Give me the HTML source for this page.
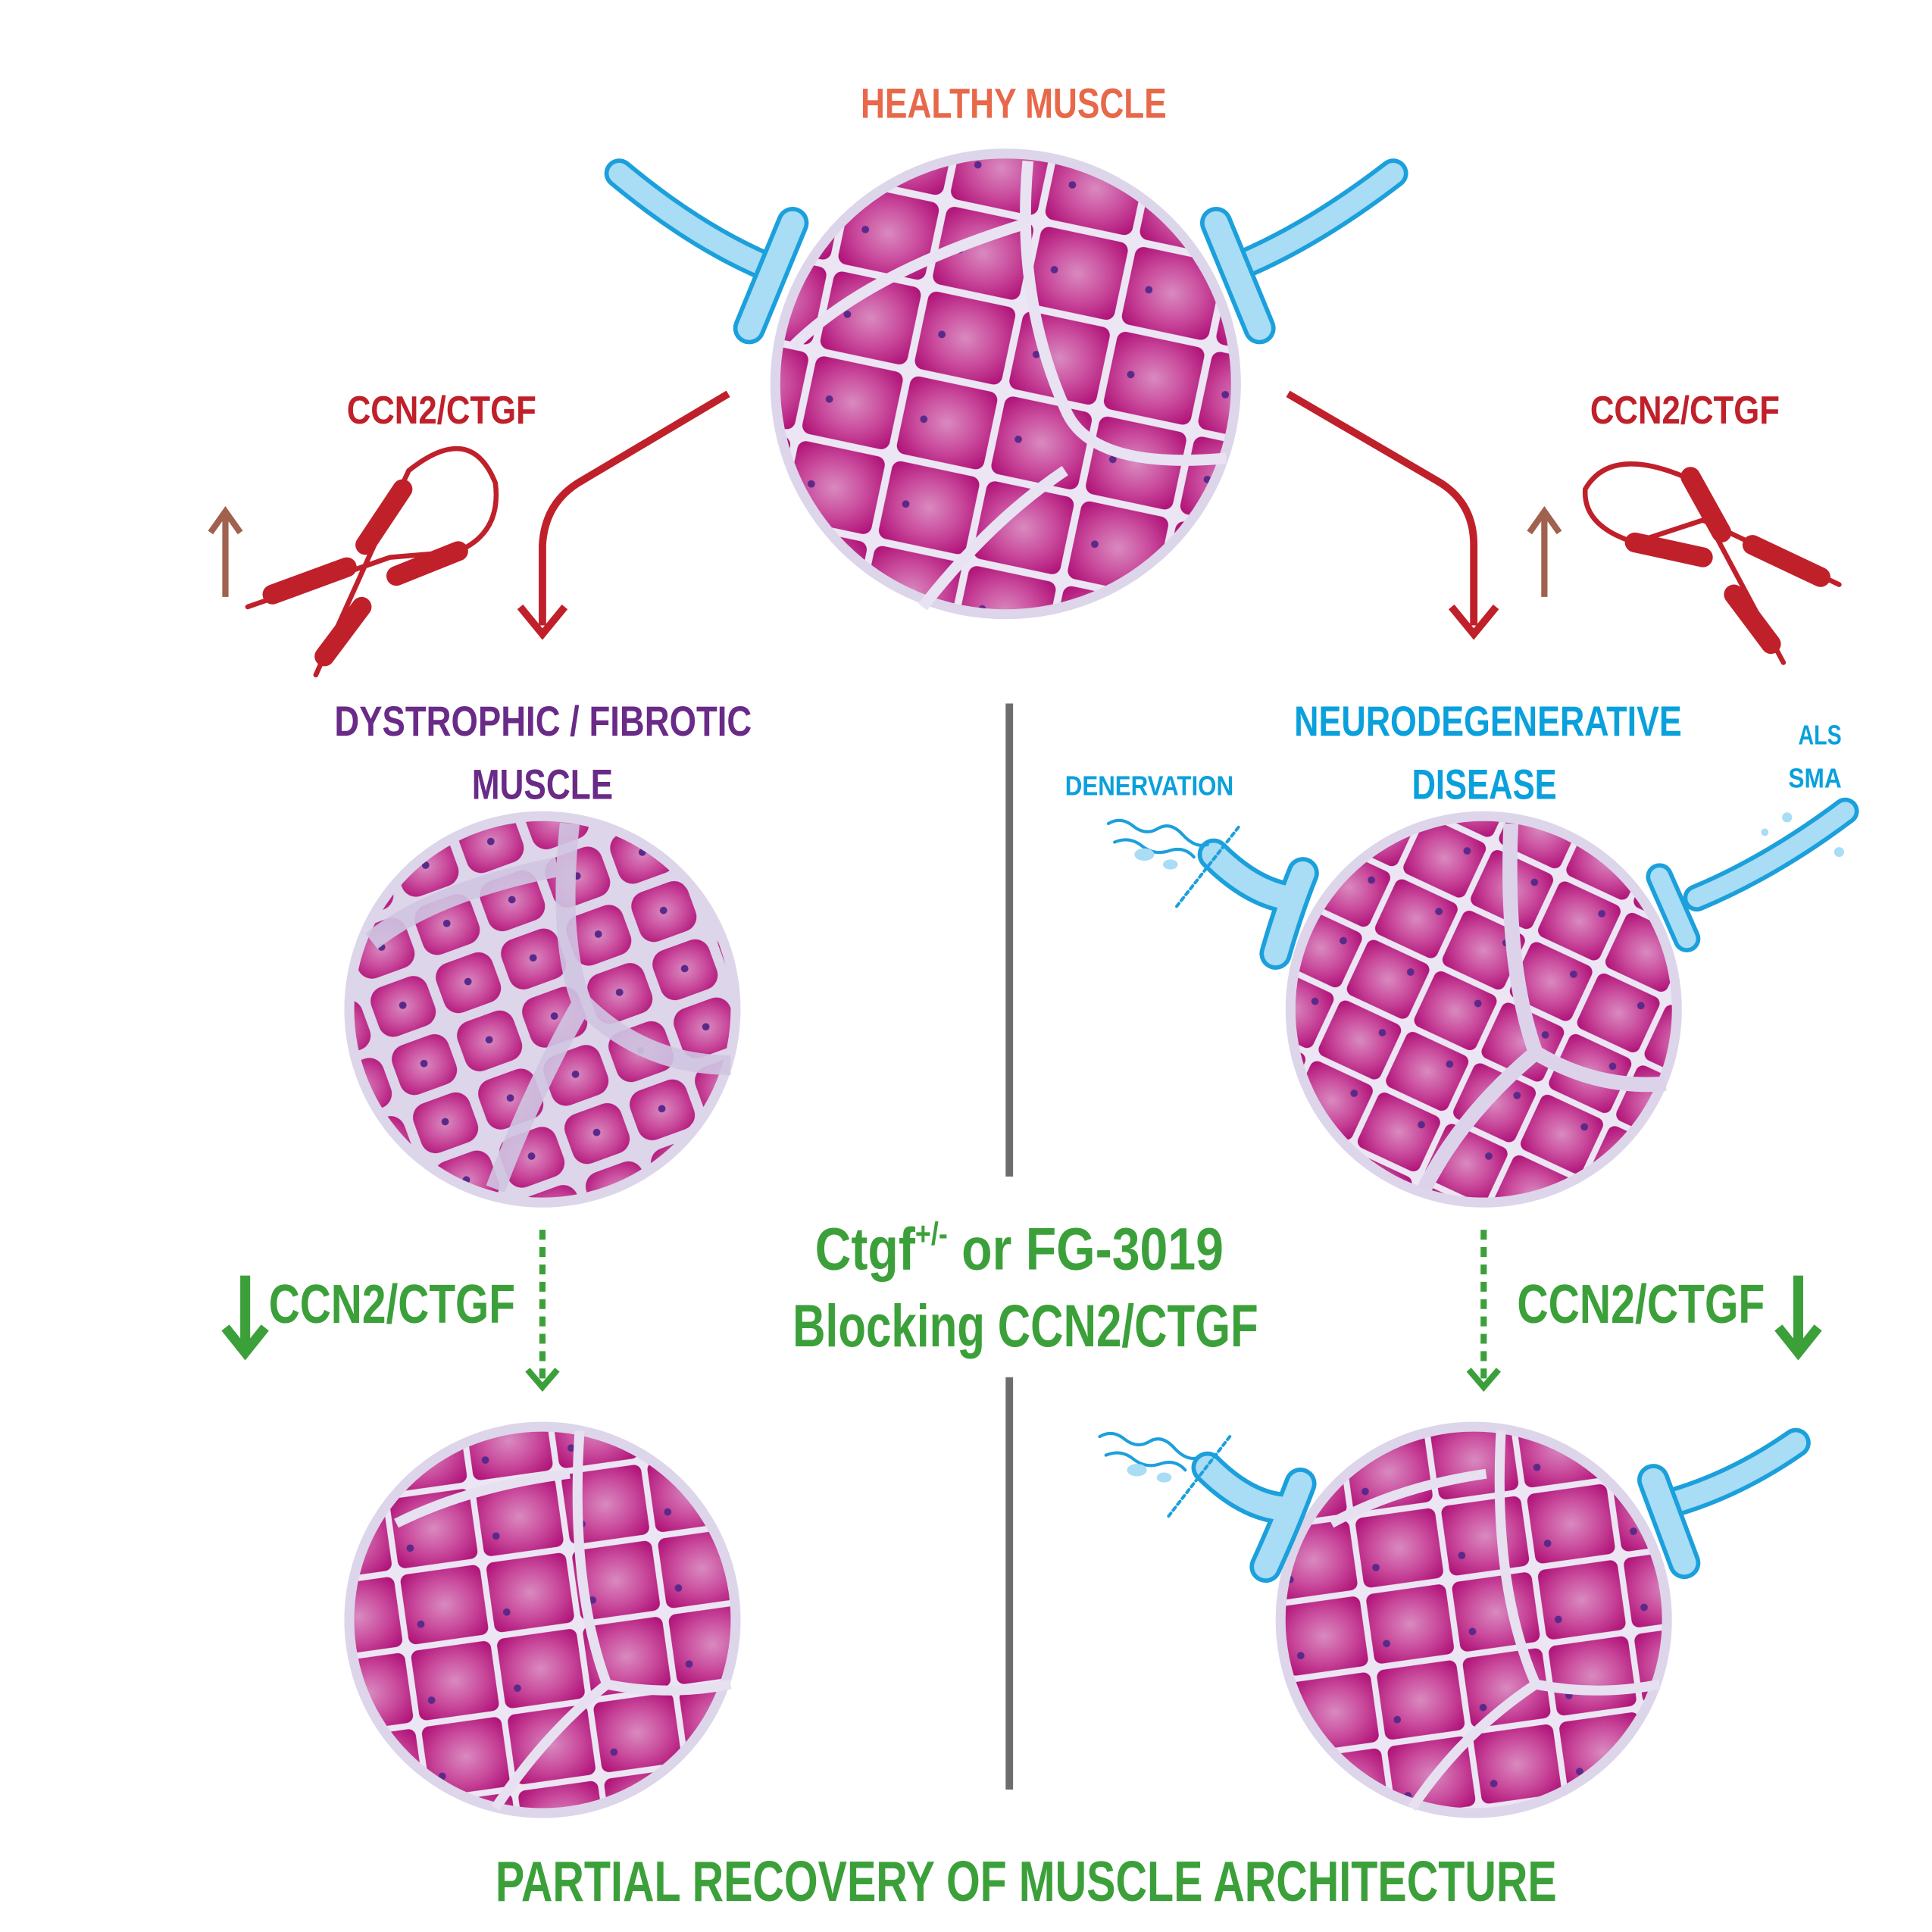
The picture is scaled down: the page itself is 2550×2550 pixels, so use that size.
<!DOCTYPE html>
<html><head><meta charset="utf-8"><style>html,body{margin:0;padding:0;background:#fff}svg{display:block}</style></head>
<body>
<svg xmlns="http://www.w3.org/2000/svg" width="2550" height="2550" viewBox="0 0 1560 1560" font-family="'Liberation Sans', sans-serif" font-weight="bold">
<defs>
<radialGradient id="cg" cx="0.5" cy="0.5" r="0.65">
<stop offset="0" stop-color="#d98ac0"/><stop offset="0.55" stop-color="#c94a9c"/><stop offset="1" stop-color="#b01478"/></radialGradient>
<pattern id="p1" patternUnits="userSpaceOnUse" width="78" height="70" patternTransform="rotate(12)">
<rect width="78" height="70" fill="#ece6f4"/><rect x="3" y="3" width="72" height="64" rx="7" fill="url(#cg)"/><circle cx="20" cy="36" r="3" fill="#5a2a8a"/></pattern>
<pattern id="p2" patternUnits="userSpaceOnUse" width="56" height="50" patternTransform="rotate(-20)">
<rect width="56" height="50" fill="#ddd5ea"/><rect x="4" y="4" width="48" height="42" rx="12" fill="url(#cg)"/><circle cx="28" cy="24" r="3" fill="#5a2a8a"/></pattern>
<pattern id="p3" patternUnits="userSpaceOnUse" width="60" height="54" patternTransform="rotate(25)">
<rect width="60" height="54" fill="#ece6f4"/><rect x="2.5" y="2.5" width="55" height="49" rx="6" fill="url(#cg)"/><circle cx="44" cy="14" r="3" fill="#5a2a8a"/></pattern>
<pattern id="p4" patternUnits="userSpaceOnUse" width="70" height="62" patternTransform="rotate(-8)">
<rect width="70" height="62" fill="#ece6f4"/><rect x="2.5" y="2.5" width="65" height="57" rx="6" fill="url(#cg)"/><circle cx="14" cy="44" r="3" fill="#5a2a8a"/></pattern>
</defs>

<g>
<circle cx="812" cy="310" r="190" fill="#ddd5ea"/>
<circle cx="812" cy="310" r="182" fill="url(#p1)"/>
<path d="M830 130 Q820 240 860 330 Q880 380 990 370 M860 380 Q800 420 745 490 M640 280 Q700 220 830 180" stroke="#e8e2f2" stroke-width="9" fill="none"/>
</g>
<g>
<circle cx="438" cy="815" r="160" fill="#ddd5ea"/>
<circle cx="438" cy="815" r="152" fill="url(#p2)"/>
<path d="M460 665 Q450 760 470 810 Q520 860 590 860 M470 810 Q430 880 400 960 M300 760 Q350 720 450 700" stroke="#cfc5e2" stroke-width="16" fill="none" opacity="0.9"/>
</g>
<g>
<circle cx="1198" cy="815" r="160" fill="#ddd5ea"/>
<circle cx="1198" cy="815" r="152" fill="url(#p3)"/>
<path d="M1220 665 Q1215 780 1240 850 Q1290 880 1345 875 M1240 850 Q1180 900 1150 960" stroke="#dcd3ea" stroke-width="12" fill="none"/>
</g>
<g>
<circle cx="438" cy="1308" r="160" fill="#ddd5ea"/>
<circle cx="438" cy="1308" r="152" fill="url(#p4)"/>
<path d="M468 1155 Q460 1280 490 1360 Q540 1370 590 1360 M490 1360 Q440 1400 400 1460 M320 1230 Q380 1200 460 1190" stroke="#e6e0f0" stroke-width="8" fill="none"/>
</g>
<g>
<circle cx="1190" cy="1308" r="160" fill="#ddd5ea"/>
<circle cx="1190" cy="1308" r="152" fill="url(#p4)"/>
<path d="M1212 1155 Q1205 1280 1240 1360 Q1290 1370 1340 1360 M1240 1360 Q1180 1400 1140 1460 M1075 1230 Q1130 1200 1200 1190" stroke="#e6e0f0" stroke-width="8" fill="none"/>
</g>

<g fill="none" stroke-linecap="round" stroke-linejoin="round">
<path d="M500 140 Q560 190 618 215" stroke="#1ba0dc" stroke-width="24"/>
<path d="M500 140 Q560 190 618 215" stroke="#a9dcf5" stroke-width="17"/>
<path d="M640 180 L605 265" stroke="#1ba0dc" stroke-width="26"/>
<path d="M640 180 L605 265" stroke="#a9dcf5" stroke-width="19"/>
<path d="M1125 140 Q1060 190 1000 215" stroke="#1ba0dc" stroke-width="24"/>
<path d="M1125 140 Q1060 190 1000 215" stroke="#a9dcf5" stroke-width="17"/>
<path d="M982 180 L1017 265" stroke="#1ba0dc" stroke-width="26"/>
<path d="M982 180 L1017 265" stroke="#a9dcf5" stroke-width="19"/>
<path d="M980 690 Q1010 720 1040 725 M1052 705 Q1040 735 1030 770" stroke="#1ba0dc" stroke-width="26"/>
<path d="M980 690 Q1010 720 1040 725 M1052 705 Q1040 735 1030 770" stroke="#a9dcf5" stroke-width="19"/>
<path d="M895 665 q10 -6 20 2 t20 2 t20 5 t20 8 M900 680 q12 -5 22 3 t22 4 t20 5" stroke="#1ba0dc" stroke-width="2.5"/>
<path d="M1000 668 L950 732" stroke="#1ba0dc" stroke-width="2.5" stroke-dasharray="3 3"/>
<path d="M1490 655 Q1430 700 1370 725 M1340 708 L1362 758" stroke="#1ba0dc" stroke-width="22"/>
<path d="M1490 655 Q1430 700 1370 725 M1340 708 L1362 758" stroke="#a9dcf5" stroke-width="15"/>
<path d="M975 1185 Q1005 1215 1035 1218 M1050 1198 Q1038 1230 1022 1265" stroke="#1ba0dc" stroke-width="26"/>
<path d="M975 1185 Q1005 1215 1035 1218 M1050 1198 Q1038 1230 1022 1265" stroke="#a9dcf5" stroke-width="19"/>
<path d="M888 1160 q10 -6 20 2 t20 2 t20 5 t20 8 M893 1175 q12 -5 22 3 t22 4 t20 5" stroke="#1ba0dc" stroke-width="2.5"/>
<path d="M993 1160 L943 1225" stroke="#1ba0dc" stroke-width="2.5" stroke-dasharray="3 3"/>
<path d="M1450 1165 Q1400 1200 1345 1215" stroke="#1ba0dc" stroke-width="24"/>
<path d="M1450 1165 Q1400 1200 1345 1215" stroke="#a9dcf5" stroke-width="17"/>
<path d="M1335 1195 L1360 1262" stroke="#1ba0dc" stroke-width="26"/>
<path d="M1335 1195 L1360 1262" stroke="#a9dcf5" stroke-width="19"/>
</g>
<g fill="#a9dcf5"><ellipse cx="924" cy="690" rx="8" ry="5"/><ellipse cx="945" cy="698" rx="6" ry="4"/><ellipse cx="918" cy="1187" rx="8" ry="5"/><ellipse cx="940" cy="1193" rx="6" ry="4"/><circle cx="1443" cy="660" r="4"/><circle cx="1425" cy="672" r="3"/><circle cx="1485" cy="688" r="4"/></g>

<g fill="none" stroke="#c0202a" stroke-width="6">
<path d="M588 318 L470 388 Q440 405 438 440 L438 505"/>
<path d="M420 490 L438 512 L456 490"/>
<path d="M1040 318 L1160 388 Q1190 405 1190 440 L1190 505"/>
<path d="M1172 490 L1190 512 L1208 490"/>
</g>
<g stroke="#c0202a" fill="none" stroke-linecap="round">
<path d="M200 490 L315 450 L375 445 M255 545 L300 445 L330 380 Q380 340 400 390 Q405 430 370 445" stroke-width="4"/>
<path d="M220 480 L280 458 M262 530 L292 490 M295 440 L325 395 M320 465 L370 445" stroke-width="16"/>
<path d="M1485 472 L1375 420 L1320 438 M1440 535 L1360 385 Q1300 360 1280 395 Q1278 425 1320 438" stroke-width="4"/>
<path d="M1470 466 L1415 440 M1430 520 L1400 480 M1390 430 L1365 385 M1320 438 L1375 450" stroke-width="16"/>
</g>
<g stroke="#a0614e" stroke-width="5" fill="none"><path d="M182 482 L182 415 M170 430 L182 413 L194 430"/><path d="M1247 482 L1247 415 M1235 430 L1247 413 L1259 430"/></g>

<g stroke="#6d6d6d" stroke-width="6"><line x1="815" y1="568" x2="815" y2="950"/><line x1="815" y1="1112" x2="815" y2="1445"/></g>
<g stroke="#3ca03a" fill="none" stroke-width="5">
<path d="M438 993 L438 1118" stroke-dasharray="8 6"/><path d="M426 1106 L438 1120 L450 1106"/>
<path d="M1198 993 L1198 1118" stroke-dasharray="8 6"/><path d="M1186 1106 L1198 1120 L1210 1106"/>
<path d="M198 1030 L198 1090 M182 1072 L198 1092 L214 1072" stroke-width="8"/>
<path d="M1452 1030 L1452 1090 M1436 1072 L1452 1092 L1468 1072" stroke-width="8"/>
</g>

<g>
<text x="695" y="95" font-size="34" fill="#e8684a" textLength="247" lengthAdjust="spacingAndGlyphs">HEALTHY MUSCLE</text>
<text x="280" y="342" font-size="32" fill="#c0202a" textLength="153" lengthAdjust="spacingAndGlyphs">CCN2/CTGF</text>
<text x="1284" y="342" font-size="32" fill="#c0202a" textLength="153" lengthAdjust="spacingAndGlyphs">CCN2/CTGF</text>
<text x="270" y="594" font-size="34" fill="#6a2a88" textLength="337" lengthAdjust="spacingAndGlyphs">DYSTROPHIC / FIBROTIC</text>
<text x="381" y="645" font-size="34" fill="#6a2a88" textLength="114" lengthAdjust="spacingAndGlyphs">MUSCLE</text>
<text x="1045" y="594" font-size="34" fill="#0aa0dc" textLength="313" lengthAdjust="spacingAndGlyphs">NEURODEGENERATIVE</text>
<text x="1140" y="645" font-size="34" fill="#0aa0dc" textLength="117" lengthAdjust="spacingAndGlyphs">DISEASE</text>
<text x="860" y="642" font-size="22" fill="#0aa0dc" textLength="136" lengthAdjust="spacingAndGlyphs">DENERVATION</text>
<text x="1452" y="601" font-size="22" fill="#0aa0dc" textLength="35" lengthAdjust="spacingAndGlyphs">ALS</text>
<text x="1444" y="636" font-size="22" fill="#0aa0dc" textLength="43" lengthAdjust="spacingAndGlyphs">SMA</text>
<text x="658" y="1025" font-size="48" fill="#3ca03a" textLength="330" lengthAdjust="spacingAndGlyphs">Ctgf<tspan font-size="26" dy="-20">+/-</tspan><tspan dy="20"> or FG-3019</tspan></text>
<text x="640" y="1087" font-size="48" fill="#3ca03a" textLength="376" lengthAdjust="spacingAndGlyphs">Blocking CCN2/CTGF</text>
<text x="217" y="1068" font-size="44" fill="#3ca03a" textLength="199" lengthAdjust="spacingAndGlyphs">CCN2/CTGF</text>
<text x="1225" y="1068" font-size="44" fill="#3ca03a" textLength="200" lengthAdjust="spacingAndGlyphs">CCN2/CTGF</text>
<text x="400" y="1535" font-size="46" fill="#3ca03a" textLength="857" lengthAdjust="spacingAndGlyphs">PARTIAL RECOVERY OF MUSCLE ARCHITECTURE</text>
</g>
</svg>
</body></html>
